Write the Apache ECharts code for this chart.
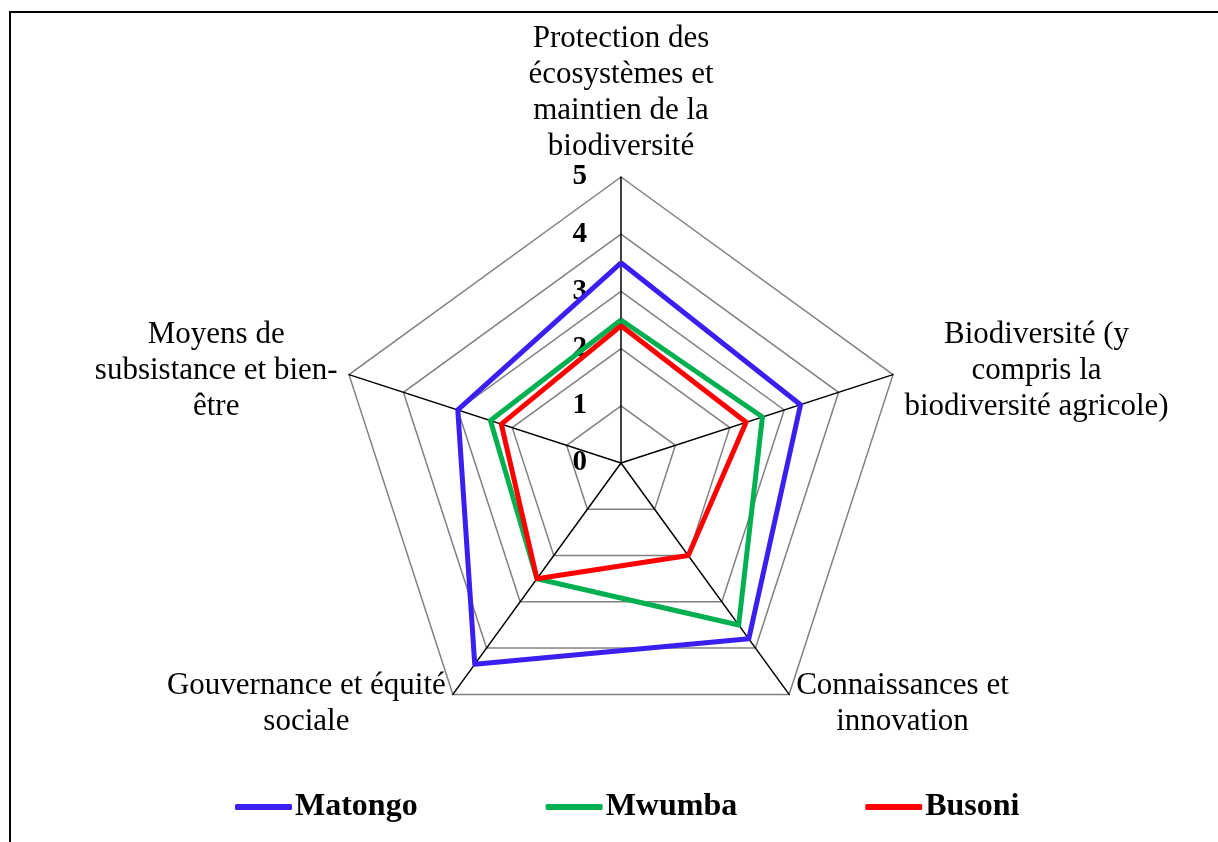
<!DOCTYPE html>
<html>
<head>
<meta charset="utf-8">
<script src="https://cdn.jsdelivr.net/npm/echarts@6/dist/echarts.min.js"></script>
<style>
  html, body { margin: 0; padding: 0; background: #fff; }
  #chart { width: 1218px; height: 842px; }
</style>
</head>
<body>
<div id="chart"></div>
<script>
// axes of the radar, clockwise from the top
var indicatorNames = [
    'Protection des\nécosystèmes et\nmaintien de la\nbiodiversité',
    'Biodiversité (y\ncompris la\nbiodiversité agricole)',
    'Connaissances et\ninnovation',
    'Gouvernance et équité\nsociale',
    'Moyens de\nsubsistance et bien-\nêtre'
];
var scaleMax = 5;

var seriesNames = ['Matongo', 'Mwumba', 'Busoni'];
var matongo = [3.5, 3.3, 3.8, 4.35, 3.0];
var mwumba = [2.5, 2.6, 3.5, 2.5, 2.4];
var busoni = [2.4, 2.3, 2.0, 2.5, 2.2];
var colors = ['#3b1ff0', '#00b050', '#ff0000'];

var serif = '"Liberation Serif", "Times New Roman", serif';

// echarts lays indicators out counter-clockwise, so walk the lists backwards after the top one
var order = [0, 4, 3, 2, 1];
function reorder(arr) {
    return order.map(function (k) { return arr[k]; });
}

var chart = echarts.init(document.getElementById('chart'));

var indicators = reorder(indicatorNames).map(function (n, i) {
    var ind = { name: n, min: 0, max: scaleMax };
    // only the top axis carries the 0..5 labels
    if (i === 0) {
        ind.axisLabel = { show: true };
    }
    return ind;
});

chart.setOption({
    animation: false,
    color: colors,
    graphic: [
        {
            type: 'rect',
            shape: { x: 10, y: 12, width: 1400, height: 1000 },
            style: { fill: 'none', stroke: '#000', lineWidth: 2 },
            silent: true
        }
    ],
    legend: {
        data: seriesNames,
        left: 230,
        top: 786,
        itemGap: 128,
        itemWidth: 57,
        itemHeight: 6,
        icon: 'roundRect',
        textStyle: {
            fontFamily: serif,
            fontWeight: 'bold',
            fontSize: 32,
            color: '#000',
            padding: [0, 0, 0, -2]
        }
    },
    radar: {
        center: [621, 463],
        radius: 286,
        startAngle: 90,
        splitNumber: 5,
        shape: 'polygon',
        indicator: indicators,
        nameGap: 12,
        axisName: {
            color: '#000',
            fontFamily: serif,
            fontSize: 31,
            formatter: function (value) {
                return value.split('\n').map(function (s) {
                    return '{c|' + s + '}';
                }).join('\n');
            },
            rich: {
                c: {
                    align: 'center',
                    fontFamily: serif,
                    fontSize: 31,
                    lineHeight: 36,
                    color: '#000'
                }
            }
        },
        axisLine: { lineStyle: { color: '#000', width: 1.5 } },
        axisTick: { show: false },
        axisLabel: {
            show: false,
            margin: 34,
            fontFamily: serif,
            fontWeight: 'bold',
            fontSize: 29,
            color: '#000'
        },
        splitLine: { lineStyle: { color: '#808080', width: 1.5 } },
        splitArea: { show: false }
    },
    series: [
        {
            type: 'radar',
            symbol: 'none',
            lineStyle: { width: 5 },
            data: [
                { name: seriesNames[0], value: reorder(matongo), lineStyle: { color: colors[0], width: 5 } },
                { name: seriesNames[1], value: reorder(mwumba), lineStyle: { color: colors[1], width: 5 } },
                { name: seriesNames[2], value: reorder(busoni), lineStyle: { color: colors[2], width: 5 } }
            ]
        }
    ]
});
</script>
</body>
</html>
